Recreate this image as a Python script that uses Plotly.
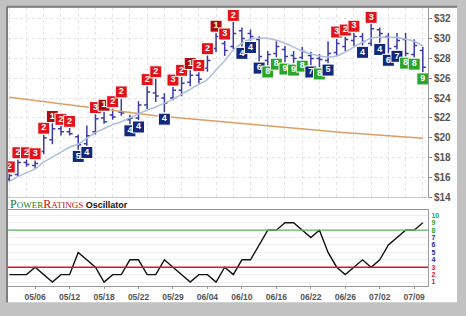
import plotly.graph_objects as go

W, H = 466, 316

dates = ["05/01", "05/04", "05/05", "05/06", "05/07", "05/08", "05/11", "05/12", "05/13", "05/14",
         "05/15", "05/18", "05/19", "05/20", "05/21", "05/22", "05/26", "05/27", "05/28", "05/29",
         "06/01", "06/02", "06/03", "06/04", "06/05", "06/08", "06/09", "06/10", "06/11", "06/12",
         "06/15", "06/16", "06/17", "06/18", "06/19", "06/22", "06/23", "06/24", "06/25", "06/26",
         "06/29", "06/30", "07/01", "07/02", "07/06", "07/07", "07/08", "07/09", "07/10"]

tick_labels = ["05/06", "05/12", "05/18", "05/22", "05/29", "06/04", "06/10",
               "06/16", "06/22", "06/26", "07/02", "07/09"]

high = [16.37, 17.80, 17.80, 17.70, 20.28, 21.46, 21.17, 20.97, 20.33, 21.22,
        22.36, 22.60, 22.95, 23.94, 22.31, 23.69, 25.18, 25.97, 24.48, 25.13,
        26.12, 26.81, 26.61, 28.30, 30.57, 29.78, 31.66, 31.12, 30.92, 30.23,
        28.74, 29.73, 29.24, 28.74, 29.14, 28.64, 28.44, 29.73, 29.98, 30.18,
        30.57, 30.57, 31.46, 31.12, 30.57, 30.57, 30.57, 29.93, 29.14]
low = [15.57, 16.07, 17.06, 16.86, 18.35, 19.34, 20.23, 20.23, 18.79, 19.19,
       20.33, 21.41, 21.81, 22.21, 21.37, 21.76, 22.90, 23.59, 22.55, 23.79,
       24.19, 25.18, 25.47, 26.66, 28.64, 28.25, 28.94, 29.19, 29.78, 27.70,
       27.31, 28.10, 27.60, 27.50, 27.90, 27.31, 27.11, 27.50, 28.25, 28.74,
       29.24, 29.29, 29.24, 29.58, 28.49, 28.89, 28.20, 28.10, 26.61]
open_ = [15.80, 16.30, 17.50, 17.20, 18.60, 19.80, 20.90, 20.60, 20.10, 19.40,
         20.60, 22.00, 22.30, 22.60, 21.80, 22.00, 23.30, 24.50, 24.00, 24.00,
         24.80, 25.60, 26.30, 27.00, 29.00, 29.50, 29.20, 30.80, 30.50, 29.90,
         27.80, 28.50, 28.90, 28.30, 28.10, 28.30, 28.00, 27.80, 28.60, 29.20,
         29.80, 30.20, 29.50, 30.90, 30.20, 29.20, 29.90, 28.40, 28.80]
close = [16.20, 17.50, 17.30, 17.40, 20.00, 20.90, 20.60, 20.40, 19.30, 20.20,
         21.90, 21.60, 22.10, 22.50, 22.00, 23.30, 24.60, 24.20, 23.50, 24.80,
         25.50, 26.30, 25.90, 27.80, 30.20, 28.80, 30.50, 30.00, 30.20, 28.20,
         28.40, 29.20, 28.20, 28.00, 28.70, 28.00, 27.90, 28.50, 29.50, 29.90,
         30.20, 29.70, 31.00, 30.50, 29.00, 29.80, 28.50, 29.30, 27.10]

ma_short = [15.57, 16.07, 16.46, 16.86, 17.55, 18.05, 18.54, 19.04, 19.34, 19.93,
            20.52, 20.92, 21.32, 21.61, 22.01, 22.40, 22.80, 23.10, 23.49, 23.89,
            24.39, 24.88, 25.38, 25.87, 26.86, 27.75, 28.84, 29.53, 29.93, 30.03,
            30.03, 29.83, 29.53, 29.14, 28.74, 28.44, 28.25, 28.15, 28.25, 28.64,
            29.14, 29.63, 30.03, 30.13, 30.13, 30.13, 29.93, 29.73, 29.24]

ma_long = [24.08, 23.97, 23.86, 23.75, 23.64, 23.52, 23.41, 23.29, 23.17, 23.05,
           22.94, 22.82, 22.71, 22.61, 22.50, 22.40, 22.30, 22.21, 22.13, 22.05,
           21.97, 21.89, 21.81, 21.73, 21.65, 21.57, 21.49, 21.41, 21.33, 21.25,
           21.17, 21.09, 21.01, 20.93, 20.86, 20.79, 20.72, 20.65, 20.58, 20.51,
           20.45, 20.38, 20.31, 20.25, 20.18, 20.12, 20.06, 20.00, 19.94]

ratings = [2, 2, 2, 3, 2, 1, 2, 2, 5, 4,
           3, 1, 2, 2, 4, 4, 2, 2, 4, 3,
           2, 1, 2, 2, 1, 3, 2, 4, 4, 6,
           8, 8, 9, 9, 8, 7, 8, 5, 3, 2,
           3, 4, 3, 4, 6, 7, 8, 8, 9]

osc_levels = [3, 8]

# ---- styles ----
GREEN = "#2aa52a"
RED = "#e0141c"
DRED = "#a80e0e"
NAVY = "#12287a"
BAR = "#3a3aa8"
FONT = "Arial, Liberation Sans, sans-serif"

def label_color(r):
    if r == 1:
        return DRED
    if r <= 3:
        return RED
    if r <= 7:
        return NAVY
    return GREEN

OFF = 0.68
lab_y = [(h + OFF) if r <= 3 else (l - OFF) for h, l, r in zip(high, low, ratings)]

fig = go.Figure()

fig.add_trace(go.Scatter(x=dates, y=ma_long, mode="lines",
                         line=dict(color="#d9a066", width=1.5),
                         xaxis="x", yaxis="y", hoverinfo="skip"))
fig.add_trace(go.Scatter(x=dates, y=ma_short, mode="lines",
                         line=dict(color="#a9bfdc", width=1.5, shape="spline"),
                         xaxis="x", yaxis="y", hoverinfo="skip"))
fig.add_trace(go.Ohlc(x=dates, open=open_, high=high, low=low, close=close,
                      increasing=dict(line=dict(color=BAR, width=1.5)),
                      decreasing=dict(line=dict(color=BAR, width=1.5)),
                      tickwidth=0.35, xaxis="x", yaxis="y", hoverinfo="skip"))
fig.add_trace(go.Scatter(x=dates, y=lab_y, mode="markers+text",
                         text=[str(r) for r in ratings], textposition="middle center",
                         textfont=dict(color="white", size=9, family=FONT, weight="bold"),
                         marker=dict(symbol="square", size=12,
                                     color=[label_color(r) for r in ratings],
                                     line=dict(color="white", width=1)),
                         xaxis="x", yaxis="y", hoverinfo="skip"))

# oscillator
fig.add_trace(go.Scatter(x=dates, y=ratings, mode="lines",
                         line=dict(color="#111111", width=1.4),
                         xaxis="x2", yaxis="y2", hoverinfo="skip"))

shapes = []
# frame
shapes.append(dict(type="rect", xref="paper", yref="paper", x0=8 / W, x1=457 / W,
                   y0=1 - 308 / H, y1=1 - 8 / H, fillcolor="white",
                   line=dict(width=0), layer="below"))
shapes.append(dict(type="line", xref="paper", yref="paper", x0=7 / W, x1=457 / W,
                   y0=1 - 7 / H, y1=1 - 7 / H, line=dict(color="#7d7d7d", width=2)))
shapes.append(dict(type="line", xref="paper", yref="paper", x0=7 / W, x1=7 / W,
                   y0=1 - 7 / H, y1=1 - 308 / H, line=dict(color="#7d7d7d", width=2)))
# oscillator levels
osc_cols = [RED, "#5cb85c"]
for lv, c in zip(osc_levels, osc_cols):
    shapes.append(dict(type="line", xref="x2 domain", yref="y2", x0=0, x1=1,
                       y0=lv, y1=lv, line=dict(color=c, width=1.4)))

def tcol(v):
    if v >= 8:
        return GREEN
    if v >= 4:
        return "#1a2a9a"
    return RED

osc_ticks = list(range(1, 11))
osc_ticktext = [f"<span style='color:{tcol(v)}'>{v}</span>" for v in osc_ticks]

xdom = [8 / W, 428 / W]
xr = [-0.15, 48.6]

fig.update_layout(
    width=W, height=H,
    margin=dict(l=0, r=0, t=0, b=0),
    paper_bgcolor="#c2c2c2",
    plot_bgcolor="rgba(0,0,0,0)",
    showlegend=False,
    font=dict(family=FONT, color="#555555"),
    shapes=shapes,
    xaxis=dict(domain=xdom, type="category", categoryorder="array", categoryarray=dates,
               range=xr, showticklabels=False, ticks="",
               showgrid=True, gridcolor="#e4e4e4", griddash="dot", gridwidth=1,
               showline=True, linecolor="#c8c8c8", linewidth=1,
               rangeslider=dict(visible=False), anchor="y", zeroline=False),
    yaxis=dict(domain=[1 - 201 / H, 1 - 8 / H], range=[14, 33.1], side="right",
               tickmode="linear", tick0=14, dtick=2, tickprefix="$",
               tickfont=dict(size=10, family=FONT, color="#555555", weight="bold"),
               ticks="outside", ticklen=3, tickcolor="#888888",
               showline=True, linecolor="#999999", linewidth=1,
               showgrid=True, gridcolor="#e4e4e4", griddash="dot", gridwidth=1,
               zeroline=False, anchor="x"),
    xaxis2=dict(domain=xdom, type="category", categoryorder="array", categoryarray=dates,
                range=xr, tickmode="array", tickvals=tick_labels, ticktext=tick_labels,
                tickfont=dict(size=8.5, family=FONT, color="#555555", weight="bold"),
                ticks="outside", ticklen=2, tickcolor="#999999",
                showgrid=False, showline=True, linecolor="#999999", linewidth=1,
                mirror=True, anchor="y2", zeroline=False),
    yaxis2=dict(domain=[1 - 292 / H, 1 - 214 / H], range=[0.405, 10.73], side="right",
                tickmode="array", tickvals=osc_ticks, ticktext=osc_ticktext,
                tickfont=dict(size=7, family=FONT, weight="bold"),
                ticks="", ticklabelstandoff=1,
                showline=True, linecolor="#999999", linewidth=1,
                showgrid=True, gridcolor="#efefef", gridwidth=1,
                zeroline=False, anchor="x2"),
    annotations=[dict(
        xref="paper", yref="paper", x=8 / W, y=1 - 208 / H, xanchor="left", yanchor="middle",
        showarrow=False,
        text=("<span style='font-family:Liberation Serif, Times New Roman, serif;color:#1f7a1f;font-size:12px'>P</span>"
              "<span style='font-family:Liberation Serif, Times New Roman, serif;color:#1f7a1f;font-size:9px'>OWER</span>"
              "<span style='font-family:Liberation Serif, Times New Roman, serif;color:#c41010;font-size:12px'>R</span>"
              "<span style='font-family:Liberation Serif, Times New Roman, serif;color:#c41010;font-size:9px'>ATINGS</span>"
              "<span style='color:#111111;font-size:9px'><b> Oscillator</b></span>"),
    )],
)

fig.write_html("out.html")
